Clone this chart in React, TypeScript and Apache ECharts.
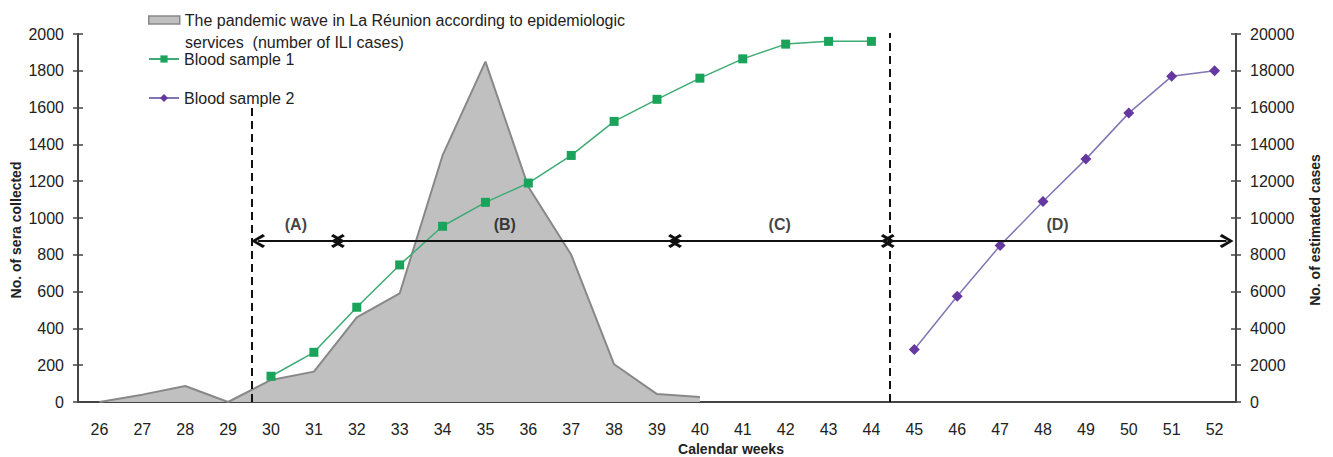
import { useEffect, useRef } from 'react';
import * as echarts from 'echarts';

const weeks = ['26','27','28','29','30','31','32','33','34','35','36','37','38','39','40','41','42','43','44','45','46','47','48','49','50','51','52'];
const waveName = 'The pandemic wave in La Réunion according to epidemiologic services  (number of ILI cases)';
const waveLine1 = 'The pandemic wave in La Réunion according to epidemiologic';
const waveLine2 = 'services  (number of ILI cases)';
const waveCases = [0, 400, 870, 0, 1200, 1650, 4600, 5900, 13400, 18500, 11700, 8000, 2050, 430, 270, null, null, null, null, null, null, null, null, null, null, null, null];
const sample1 = [null, null, null, null, 140, 270, 515, 745, 955, 1085, 1190, 1340, 1525, 1645, 1760, 1865, 1945, 1960, 1960, null, null, null, null, null, null, null, null];
const sample2 = [null, null, null, null, null, null, null, null, null, null, null, null, null, null, null, null, null, null, null, 285, 575, 850, 1090, 1320, 1570, 1770, 1800];

const periodLabels = ['(A)', '(B)', '(C)', '(D)'];
const periodBounds = [29.7, 31.56, 39.42, 44.38, 52.28];
const periodLabelX = [30.58, 35.45, 41.86, 48.34];
const arrowLevel = 875;
const labelLevel = 962;
const dividerWeeks = [29.56, 44.42];
const dividerTops = [1600, 2010];

const FONT = '"Liberation Sans", Arial, sans-serif';
const chevron = 'path://M5,0 L10,8 L8.4,9.6 L5,3.6 L1.6,9.6 L0,8 Z';

export default function App() {
  const ref = useRef<HTMLDivElement>(null);
  useEffect(() => {
    document.body.style.margin = '0';
    const chart = echarts.init(ref.current!, null, { renderer: 'svg' });
    const axisColor = '#444';
    const arrowData = periodLabels.map((_, i) => ({
      coords: [[periodBounds[i], arrowLevel], [periodBounds[i + 1], arrowLevel]],
    }));
    const dividerData = dividerWeeks.map((w, i) => ({ coords: [[w, 0], [w, dividerTops[i]]] }));
    const legendText = { fontSize: 16, color: '#222', fontFamily: FONT, lineHeight: 20 };
    const plain = (v: number) => String(v);
    chart.setOption({
      animation: false,
      textStyle: { fontFamily: FONT },
      grid: { left: 78, right: 97, top: 34, bottom: 55, outerBoundsMode: 'none', containLabel: false },
      legend: [
        {
          data: [{ name: waveName, icon: 'rect', itemStyle: { color: '#c0c0c0', borderColor: '#888', borderWidth: 1.5 } }],
          left: 148, top: 10, padding: 0, itemWidth: 31, itemHeight: 8, itemGap: 6,
          formatter: () => waveLine1,
          textStyle: legendText,
          selectedMode: false,
        },
        {
          data: ['Blood sample 1'], left: 148, top: 49, padding: 0, itemWidth: 30, itemHeight: 9, itemGap: 6,
          textStyle: legendText, selectedMode: false,
        },
        {
          data: ['Blood sample 2'], left: 148, top: 88, padding: 0, itemWidth: 30, itemHeight: 10, itemGap: 6,
          textStyle: legendText, selectedMode: false,
        },
      ],
      graphic: [
        {
          type: 'text', left: 185, top: 32,
          style: { text: waveLine2, fontSize: 16, fill: '#222', fontFamily: FONT, lineHeight: 20 },
        },
      ],
      xAxis: [
        {
          type: 'category', data: weeks, boundaryGap: true,
          axisLine: { lineStyle: { color: axisColor, width: 2 } },
          axisTick: { length: 5, lineStyle: { color: axisColor, width: 1.5 } },
          axisLabel: { fontSize: 16, color: '#222', margin: 19, fontFamily: FONT },
          name: 'Calendar weeks', nameLocation: 'middle', nameGap: 39,
          nameTextStyle: { fontSize: 14, fontWeight: 'bold', color: '#222', fontFamily: FONT, padding: [0, 0, 0, 148] },
          splitLine: { show: false },
        },
        { type: 'value', min: 25.5, max: 52.5, show: false },
        {
          type: 'category', data: weeks, boundaryGap: true, position: 'bottom',
          axisLine: { show: false },
          axisTick: { inside: true, length: 5, lineStyle: { color: axisColor, width: 1.5 } },
          axisLabel: { show: false }, splitLine: { show: false },
        },
      ],
      yAxis: [
        {
          type: 'value', min: 0, max: 2000, interval: 200, position: 'left',
          axisLine: { show: true, lineStyle: { color: axisColor, width: 2 } },
          axisTick: { show: true, length: 5, lineStyle: { color: axisColor, width: 1.5 } },
          axisLabel: { fontSize: 16, color: '#222', margin: 14, fontFamily: FONT, formatter: plain },
          splitLine: { show: false },
          name: 'No. of sera collected', nameLocation: 'middle', nameGap: 55, nameRotate: 90, nameMoveOverlap: false,
          nameTextStyle: { fontSize: 14, fontWeight: 'bold', color: '#222', fontFamily: FONT, padding: [0, 24, 0, 0] },
        },
        {
          type: 'value', min: 0, max: 20000, interval: 2000, position: 'right',
          axisLine: { show: true, lineStyle: { color: axisColor, width: 2 } },
          axisTick: { show: true, length: 5, lineStyle: { color: axisColor, width: 1.5 } },
          axisLabel: { fontSize: 16, color: '#222', margin: 14, fontFamily: FONT, formatter: plain },
          splitLine: { show: false },
          name: 'No. of estimated cases', nameLocation: 'middle', nameGap: 72, nameRotate: 90,
          nameTextStyle: { fontSize: 14, fontWeight: 'bold', color: '#222', fontFamily: FONT, padding: [0, 24, 0, 0] },
        },
        {
          type: 'value', min: 0, max: 2000, interval: 200, position: 'left',
          axisLine: { show: false }, axisLabel: { show: false }, splitLine: { show: false },
          axisTick: { show: true, inside: true, length: 5, lineStyle: { color: axisColor, width: 1.5 } },
        },
        {
          type: 'value', min: 0, max: 20000, interval: 2000, position: 'right',
          axisLine: { show: false }, axisLabel: { show: false }, splitLine: { show: false },
          axisTick: { show: true, inside: true, length: 5, lineStyle: { color: axisColor, width: 1.5 } },
        },
      ],
      series: [
        {
          name: waveName, type: 'line', xAxisIndex: 0, yAxisIndex: 1, data: waveCases,
          symbol: 'none', lineStyle: { color: '#888', width: 2 },
          areaStyle: { color: '#c0c0c0', opacity: 1 }, itemStyle: { color: '#c0c0c0' }, z: 1,
        },
        {
          name: 'Blood sample 1', type: 'line', xAxisIndex: 0, yAxisIndex: 0, data: sample1,
          symbol: 'rect', symbolSize: 9, itemStyle: { color: '#1aa35a' },
          lineStyle: { color: '#3dab74', width: 1.5 }, z: 4,
        },
        {
          name: 'Blood sample 2', type: 'line', xAxisIndex: 0, yAxisIndex: 0, data: sample2,
          symbol: 'diamond', symbolSize: 11, itemStyle: { color: '#6538a0' },
          lineStyle: { color: '#8275b5', width: 1.5 }, z: 4,
        },
        {
          name: 'dividers', type: 'lines', coordinateSystem: 'cartesian2d', xAxisIndex: 1, yAxisIndex: 0,
          data: dividerData, symbol: 'none',
          lineStyle: { color: '#111', width: 2, type: [8, 5], opacity: 1 }, z: 5,
        },
        {
          name: 'periods', type: 'lines', coordinateSystem: 'cartesian2d', xAxisIndex: 1, yAxisIndex: 0,
          data: arrowData, symbol: [chevron, chevron], symbolSize: 14,
          lineStyle: { color: '#111', width: 2, opacity: 1 }, itemStyle: { color: '#111' }, z: 6,
        },
        {
          name: 'periodLabels', type: 'scatter', xAxisIndex: 1, yAxisIndex: 0,
          data: periodLabels.map((l, i) => ({ value: [periodLabelX[i], labelLevel], name: l })),
          symbolSize: 1, itemStyle: { color: 'transparent' },
          label: { show: true, position: 'inside', formatter: '{b}', fontSize: 16, fontWeight: 'bold', color: '#111', fontFamily: FONT },
          z: 6,
        },
      ],
    });
    return () => chart.dispose();
  }, []);
  return <div ref={ref} style={{ width: 1333, height: 457 }} />;
}
